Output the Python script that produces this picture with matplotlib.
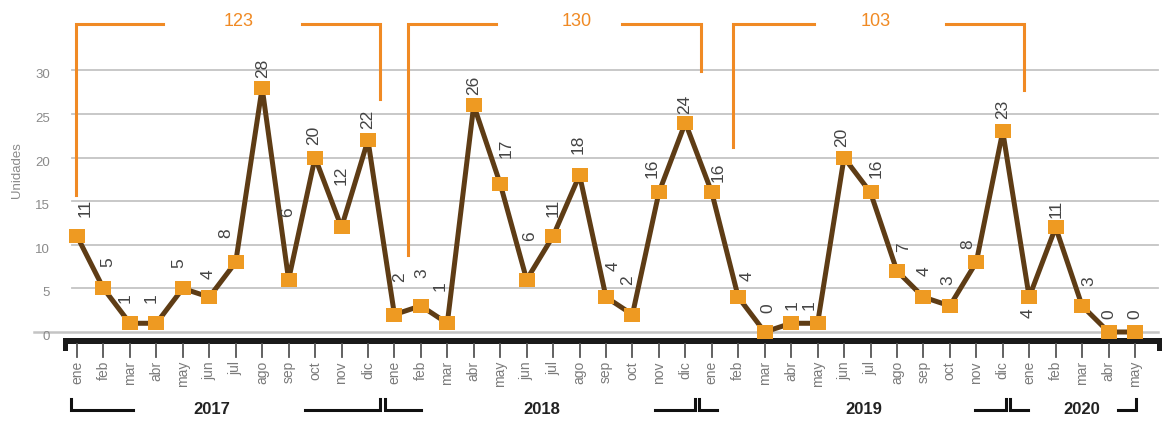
import matplotlib.pyplot as plt
from matplotlib import font_manager

months = ["ene", "feb", "mar", "abr", "may", "jun",
          "jul", "ago", "sep", "oct", "nov", "dic"]
month_labels = months * 3 + months[:5]
years = ["2017", "2018", "2019", "2020"]

values = [11, 5, 1, 1, 5, 4, 8, 28, 6, 20, 12, 22,
          2, 3, 1, 26, 17, 6, 11, 18, 4, 2, 16, 24,
          16, 4, 0, 1, 1, 20, 16, 7, 4, 3, 8, 23,
          4, 12, 3, 0, 0]
# printed labels (feb 2020 says 11 while the marker sits at 12)
value_text = [11, 5, 1, 1, 5, 4, 8, 28, 6, 20, 12, 22,
              2, 3, 1, 26, 17, 6, 11, 18, 4, 2, 16, 24,
              16, 4, 0, 1, 1, 20, 16, 7, 4, 3, 8, 23,
              4, 11, 3, 0, 0]
year_totals = [123, 130, 103]

# label offsets in pixels (dx, dy, dy<0 means up)
offsets = [(8, -28), (4, -26), (-5, -25), (-5, -25), (-4, -25), (-1, -23),
           (-10, -29), (0, -19), (-1, -67), (-1, -22), (0, -52), (0, -21),
           (5, -37), (1, -33), (-7, -37), (0, -20), (6, -35), (3, -43),
           (0, -28), (-1, -31), (7, -31), (-5, -34), (-7, -24), (-1, -18),
           (6, -20), (9, -21), (3, -24), (1, -18), (-8, -18), (-2, -20),
           (6, -24), (7, -24), (1, -26), (-2, -26), (-9, -18), (0, -22),
           (-1, 16), (0, -18), (7, -25), (0, -18), (0, -18)]

names = {f.name for f in font_manager.fontManager.ttflist}
narrow = "Liberation Sans Narrow" if "Liberation Sans Narrow" in names else "Liberation Sans"
FONT = [narrow, "DejaVu Sans"]

W, H = 1163, 424
fig = plt.figure(figsize=(W / 100, H / 100), dpi=100)
ax = fig.add_axes([0, 0, 1, 1])

# pixel -> data helpers (x0 at px 77, step 26.45 ; y0 at px 332, 8.72 px/unit)
def X(px):
    return (px - 77) / 26.45

def Y(py):
    return (332 - py) / 8.72

ax.set_xlim(X(0), X(W))
ax.set_ylim(Y(H), Y(0))
ax.axis("off")

ORANGE = "#F08A24"
GRID = "#C4C4C4"

# gridlines + y labels
for v in range(5, 31, 5):
    ax.plot([X(72), X(1158)], [v, v], color=GRID, lw=1.3, zorder=1)
ax.plot([X(34), X(1158)], [0, 0], color=GRID, lw=1.8, zorder=1)
for v in range(0, 31, 5):
    ax.text(X(50), Y(332 - v * 8.72 + 5), str(v), ha="right", va="center",
            fontsize=9.5, color="#8a8a8a", family=FONT)
ax.text(X(17), Y(170), "Unidades", rotation=90, ha="center", va="center",
        fontsize=9.5, color="#8a8a8a", family=FONT)

# black base bar
ax.fill([X(63), X(1162), X(1162), X(63)], [Y(338), Y(338), Y(344), Y(344)],
        color="#1a1a1a", lw=0, zorder=2)
ax.fill([X(63), X(68), X(68), X(63)], [Y(338), Y(338), Y(351), Y(351)],
        color="#1a1a1a", lw=0, zorder=2)
ax.fill([X(1157), X(1162), X(1162), X(1157)], [Y(338), Y(338), Y(351), Y(351)],
        color="#1a1a1a", lw=0, zorder=2)

# month ticks and labels
idx = list(range(len(values)))
for i, m in zip(idx, month_labels):
    ax.plot([i, i], [Y(344), Y(357)], color="#555555", lw=1.3, zorder=2)
    ax.text(i, Y(361), m, rotation=90, ha="center", va="top",
            fontsize=10, color="#7a7a7a", family=FONT)

# series
rect = [(-1, -0.82), (1, -0.82), (1, 0.82), (-1, 0.82), (-1, -0.82)]
ax.plot(idx, values, color="#5E3C15", lw=3.6, zorder=3,
        marker=rect, markersize=12.2, markerfacecolor="#EE9A22",
        markeredgewidth=0)

for i, v, t, (dx, dy) in zip(idx, values, value_text, offsets):
    ax.annotate(str(t), (i, v), xytext=(dx, -dy), textcoords="offset pixels",
                rotation=90, ha="center", va="center", fontsize=12.5,
                color="#444444", family=FONT, zorder=4)

# orange year-total brackets
brackets = [(76, 195, 163, 239, 302, 380, 99),
            (408, 255, 496, 577, 622, 701, 71),
            (733, 147, 814, 876, 946, 1024, 90)]
for (xl, yl, xa, xt, xb, xr, yr), tot in zip(brackets, year_totals):
    ax.plot([X(xl), X(xl), X(xa)], [Y(yl), Y(24), Y(24)], color=ORANGE, lw=2.2,
            solid_joinstyle="miter")
    ax.plot([X(xb), X(xr), X(xr)], [Y(24), Y(24), Y(yr)], color=ORANGE, lw=2.2,
            solid_joinstyle="miter")
    ax.text(X(xt), Y(21), str(tot), ha="center", va="center", fontsize=13,
            color=ORANGE, family=FONT)

# black year brackets
year_spans = [(71, 133, 305, 380, 212), (385, 421, 655, 695, 542),
              (699, 717, 975, 1006, 864), (1010, 1028, 1118, 1136, 1082)]
for (l0, l1, r0, r1, xc), yr in zip(year_spans, years):
    ax.plot([X(l0), X(l0), X(l1)], [Y(399), Y(410), Y(410)], color="#111111",
            lw=2.2, solid_joinstyle="miter")
    ax.plot([X(r0), X(r1), X(r1)], [Y(410), Y(410), Y(399)], color="#111111",
            lw=2.2, solid_joinstyle="miter")
    ax.text(X(xc), Y(410), yr, ha="center", va="center", fontsize=12,
            fontweight="bold", color="#222222", family=FONT)

fig.savefig("out.png", dpi=100)
